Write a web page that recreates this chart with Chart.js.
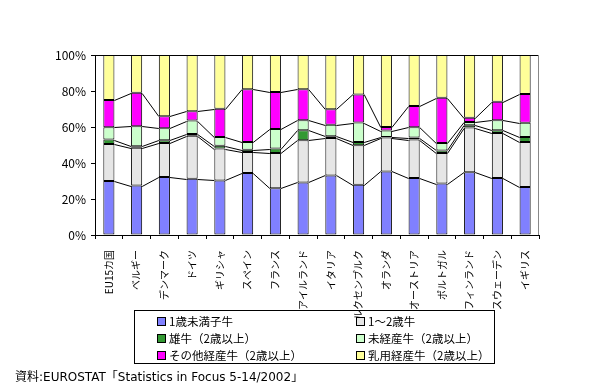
<!DOCTYPE html>
<html>
<head>
<meta charset="utf-8">
<script src="https://cdn.jsdelivr.net/npm/chart.js@4"></script>
<style>
  body { margin: 0; background: #fff; font-family: "Noto Sans CJK JP", sans-serif; }
  #wrap { position: relative; width: 597px; height: 390px; }
  #legend { position: absolute; left: 134px; top: 310px; width: 359px; height: 52px;
            border: 1px solid #000; font-size: 11.5px; color: #000; }
  .item { position: absolute; height: 16px; line-height: 16px; white-space: nowrap; }
  .item span.box { display: inline-block; width: 7px; height: 7px; border: 1px solid #000;
                   margin-right: 3px; vertical-align: 0px; }
  #source { position: absolute; left: 15px; top: 367px; font-size: 12px; color: #000;
            font-family: "DejaVu Sans", "Noto Sans CJK JP", sans-serif; }
</style>
</head>
<body>
<div id="wrap">
  <canvas id="c" width="597" height="390"></canvas>
  <div id="legend"></div>
  <div id="source">資料:EUROSTAT「Statistics in Focus 5-14/2002」</div>
</div>
<script>
// 国名
const countries = ['EU15カ国', 'ベルギー', 'デンマーク', 'ドイツ', 'ギリシャ', 'スペイン', 'フランス', 'アイルランド',
                   'イタリア', 'ルクセンブルク', 'オランダ', 'オーストリア', 'ポルトガル', 'フィンランド', 'スウェーデン', 'イギリス'];

const seriesNames = ['1歳未満子牛', '1～2歳牛', '雄牛（2歳以上）', '未経産牛（2歳以上）', 'その他経産牛（2歳以上）', '乳用経産牛（2歳以上）'];
const seriesColors = ['#8080FF', '#E6E6E6', '#339933', '#CCFFCC', '#FF00FF', '#FFFF99'];

// 構成比 (%)
const calves     = [30.0, 27.5, 32.2, 31.2, 30.3, 34.4, 26.0, 29.2, 33.1, 27.9, 35.3, 31.6, 28.6, 34.9, 31.6, 26.6];
const young      = [20.5, 21.0, 18.9, 24.0, 17.7, 11.7, 19.5, 23.4, 20.8, 21.9, 18.8, 21.4, 16.9, 24.8, 25.1, 25.1];
const bulls      = [2.5, 0.8, 1.5, 0.9, 1.6, 1.3, 2.5, 5.6, 0.9, 1.9, 0.4, 1.1, 1.5, 1.3, 1.5, 2.8];
const heifers    = [6.8, 11.1, 6.7, 7.5, 4.9, 4.3, 10.9, 5.6, 6.4, 10.8, 3.5, 5.8, 4.1, 1.8, 5.6, 7.8];
const otherCows  = [15.2, 18.6, 6.7, 5.2, 15.6, 29.3, 20.5, 17.2, 8.7, 15.6, 2.0, 11.7, 25.1, 2.4, 10.2, 16.0];
const dairyCows  = [25.0, 21.0, 34.0, 31.2, 29.9, 19.0, 20.6, 19.0, 30.1, 21.9, 40.0, 28.4, 23.8, 34.8, 26.0, 21.7];

const yTicks = [0, 20, 40, 60, 80, 100];

const allSeries = [calves, young, bulls, heifers, otherCows, dairyCows];
const FONT = '"Noto Sans CJK JP", sans-serif';

// 系列線 (棒の上端をつなぐ線) と枠
const seriesLines = {
    id: 'seriesLines',
    afterDatasetsDraw(chart) {
        const ctx = chart.ctx;
        const a = chart.chartArea;
        ctx.save();
        ctx.lineWidth = 1;
        ctx.strokeStyle = '#000';
        for (let d = 0; d < chart.data.datasets.length - 1; d++) {
            const bars = chart.getDatasetMeta(d).data;
            ctx.beginPath();
            for (let j = 0; j < bars.length - 1; j++) {
                const b1 = bars[j], b2 = bars[j + 1];
                ctx.moveTo(b1.x + b1.width / 2, Math.round(b1.y) + 0.5);
                ctx.lineTo(b2.x - b2.width / 2, Math.round(b2.y) + 0.5);
            }
            ctx.stroke();
        }
        // top border black, right border grey
        ctx.beginPath();
        ctx.moveTo(a.left, a.top + 0.5);
        ctx.lineTo(a.right, a.top + 0.5);
        ctx.stroke();
        ctx.strokeStyle = '#888';
        ctx.beginPath();
        ctx.moveTo(a.right - 0.5, a.top);
        ctx.lineTo(a.right - 0.5, a.bottom);
        ctx.stroke();
        ctx.restore();
    }
};

const ctx = document.getElementById('c').getContext('2d');
const chart = new Chart(ctx, {
    type: 'bar',
    data: {
        labels: countries,
        datasets: allSeries.map((vals, i) => ({
            label: seriesNames[i],
            data: vals,
            backgroundColor: seriesColors[i],
            borderColor: '#000',
            borderWidth: 1,
            borderSkipped: false,
            barPercentage: 0.4,
            categoryPercentage: 1.0
        }))
    },
    options: {
        responsive: false,
        animation: false,
        layout: { padding: { top: 55, right: 58, left: 0, bottom: 0 } },
        plugins: {
            legend: { display: false },
            tooltip: { enabled: false }
        },
        scales: {
            x: {
                stacked: true,
                grid: { display: true, drawOnChartArea: false, drawTicks: true, tickLength: 4, color: '#000', offset: true },
                border: { display: true, color: '#000' },
                ticks: {
                    color: '#000',
                    font: { family: FONT, size: 10 },
                    minRotation: 90,
                    maxRotation: 90,
                    autoSkip: false,
                    padding: 11
                },
                afterFit: (axis) => { axis.height = 155; }
            },
            y: {
                stacked: true,
                min: 0,
                max: 100,
                afterBuildTicks: (axis) => { axis.ticks = yTicks.map(v => ({ value: v })); },
                grid: { display: true, drawOnChartArea: false, drawTicks: true, tickLength: 4, color: '#000' },
                border: { display: true, color: '#000' },
                ticks: {
                    color: '#000',
                    font: { family: FONT, size: 12 },
                    padding: 5,
                    callback: (v) => v + '%'
                },
                afterFit: (axis) => { axis.width = 95; }
            }
        }
    },
    plugins: [seriesLines]
});

// 凡例 (2列)
const legend = document.getElementById('legend');
seriesNames.forEach((name, i) => {
    const el = document.createElement('div');
    el.className = 'item';
    el.style.left = (i % 2 === 0 ? 22 : 221) + 'px';
    el.style.top = (2 + Math.floor(i / 2) * 17) + 'px';
    el.innerHTML = '<span class="box" style="background:' + seriesColors[i] + '"></span>' + name;
    legend.appendChild(el);
});
</script>
</body>
</html>
